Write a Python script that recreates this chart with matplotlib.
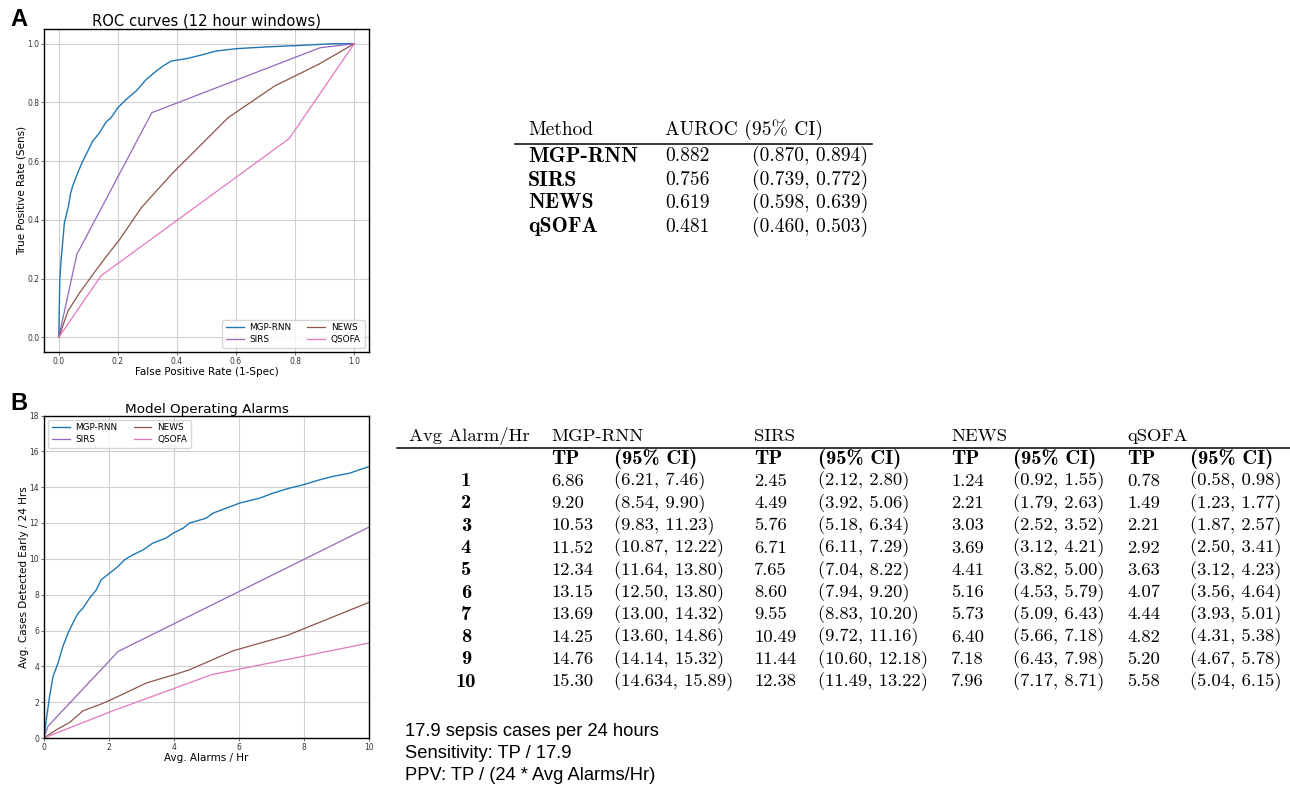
import matplotlib
matplotlib.use("Agg")
import matplotlib.pyplot as plt
from matplotlib.lines import Line2D

# ---------------- data ----------------
roc_mgp_fpr = [0.0, 0.0034, 0.008, 0.019, 0.033, 0.040, 0.047, 0.064, 0.081, 0.098, 0.115,
               0.138, 0.160, 0.177, 0.200, 0.228, 0.262, 0.296, 0.330, 0.353, 0.381, 0.432,
               0.477, 0.533, 0.601, 0.703, 0.816, 0.929, 1.0]
roc_mgp_tpr = [0.0, 0.197, 0.265, 0.390, 0.447, 0.490, 0.515, 0.560, 0.600, 0.634, 0.668,
               0.697, 0.733, 0.748, 0.782, 0.810, 0.839, 0.878, 0.907, 0.924, 0.941, 0.949,
               0.960, 0.975, 0.983, 0.989, 0.994, 1.0, 1.0]
roc_sirs_fpr = [0.0, 0.061, 0.315, 0.884, 1.0]
roc_sirs_tpr = [0.0, 0.282, 0.765, 0.986, 1.0]
roc_news_fpr = [0.0, 0.031, 0.070, 0.127, 0.166, 0.206, 0.279, 0.330, 0.386, 0.454, 0.573,
                0.731, 0.880, 1.0]
roc_news_tpr = [0.0, 0.089, 0.151, 0.230, 0.282, 0.333, 0.441, 0.498, 0.560, 0.628, 0.748,
                0.856, 0.930, 1.0]
roc_qsofa_fpr = [0.0, 0.1435, 0.780, 1.0]
roc_qsofa_tpr = [0.0, 0.210, 0.677, 1.0]

alarm_mgp_x = [0.0, 0.07, 0.17, 0.28, 0.43, 0.58, 0.74, 0.89, 1.05, 1.20, 1.40, 1.61, 1.76,
               2.02, 2.28, 2.48, 2.74, 3.05, 3.35, 3.76, 3.97, 4.28, 4.48, 4.99, 5.20, 5.61,
               6.02, 6.64, 7.05, 7.56, 7.97, 8.48, 8.89, 9.40, 10.0]
alarm_mgp_y = [0.0, 1.02, 2.30, 3.44, 4.18, 5.10, 5.86, 6.42, 6.97, 7.25, 7.80, 8.27, 8.83,
               9.20, 9.58, 9.95, 10.23, 10.50, 10.88, 11.16, 11.43, 11.71, 12.00, 12.27, 12.55,
               12.83, 13.11, 13.39, 13.67, 13.95, 14.13, 14.41, 14.60, 14.78, 15.15]
alarm_sirs_x = [0.0, 0.12, 2.28, 10.0]
alarm_sirs_y = [0.0, 0.65, 4.83, 11.77]
alarm_news_x = [0.0, 0.38, 0.79, 1.20, 1.71, 2.02, 3.15, 4.07, 4.48, 5.82, 7.46, 7.97, 10.0]
alarm_news_y = [0.0, 0.46, 0.87, 1.52, 1.86, 2.10, 3.07, 3.57, 3.81, 4.87, 5.71, 6.08, 7.57]
alarm_qsofa_x = [0.0, 2.02, 5.15, 10.0]
alarm_qsofa_y = [0.0, 1.45, 3.53, 5.30]

method_names = ["MGP-RNN", "SIRS", "NEWS", "qSOFA"]
auroc_vals = ["0.882", "0.756", "0.619", "0.481"]
auroc_cis = ["(0.870, 0.894)", "(0.739, 0.772)", "(0.598, 0.639)", "(0.460, 0.503)"]

alarm_rates = ["1", "2", "3", "4", "5", "6", "7", "8", "9", "10"]
tp_mgp = ["6.86", "9.20", "10.53", "11.52", "12.34", "13.15", "13.69", "14.25", "14.76", "15.30"]
ci_mgp = ["(6.21, 7.46)", "(8.54, 9.90)", "(9.83, 11.23)", "(10.87, 12.22)", "(11.64, 13.80)",
          "(12.50, 13.80)", "(13.00, 14.32)", "(13.60, 14.86)", "(14.14, 15.32)", "(14.634, 15.89)"]
tp_sirs = ["2.45", "4.49", "5.76", "6.71", "7.65", "8.60", "9.55", "10.49", "11.44", "12.38"]
ci_sirs = ["(2.12, 2.80)", "(3.92, 5.06)", "(5.18, 6.34)", "(6.11, 7.29)", "(7.04, 8.22)",
           "(7.94, 9.20)", "(8.83, 10.20)", "(9.72, 11.16)", "(10.60, 12.18)", "(11.49, 13.22)"]
tp_news = ["1.24", "2.21", "3.03", "3.69", "4.41", "5.16", "5.73", "6.40", "7.18", "7.96"]
ci_news = ["(0.92, 1.55)", "(1.79, 2.63)", "(2.52, 3.52)", "(3.12, 4.21)", "(3.82, 5.00)",
           "(4.53, 5.79)", "(5.09, 6.43)", "(5.66, 7.18)", "(6.43, 7.98)", "(7.17, 8.71)"]
tp_qsofa = ["0.78", "1.49", "2.21", "2.92", "3.63", "4.07", "4.44", "4.82", "5.20", "5.58"]
ci_qsofa = ["(0.58, 0.98)", "(1.23, 1.77)", "(1.87, 2.57)", "(2.50, 3.41)", "(3.12, 4.23)",
            "(3.56, 4.64)", "(3.93, 5.01)", "(4.31, 5.38)", "(4.67, 5.78)", "(5.04, 6.15)"]

notes = ["17.9 sepsis cases per 24 hours", "Sensitivity: TP / 17.9",
         "PPV: TP / (24 * Avg Alarms/Hr)"]

legend_labels = ["MGP-RNN", "SIRS", "NEWS", "QSOFA"]
colors = ["#1f77b4", "#9467bd", "#8c564b", "#e377c2"]

# ---------------- figure ----------------
W, H = 1290, 790
fig = plt.figure(figsize=(W / 100, H / 100), dpi=100)


def fx(x):
    return x / W


def fy(y):
    return 1 - y / H


def style_axes(ax):
    ax.grid(True, color="#d0d0d0", linewidth=0.8)
    ax.set_axisbelow(True)
    ax.tick_params(labelsize=5.5, length=2, width=0.5, colors="#333333", pad=1.5)
    for s in ax.spines.values():
        s.set_linewidth(1.0)
        s.set_color("black")


leg_kw = dict(ncol=2, fontsize=6.4, handlelength=2.0, columnspacing=1.8,
              borderpad=0.4, labelspacing=0.3, handletextpad=0.65)

# Panel A
axA = fig.add_axes([fx(44), fy(352), fx(369 - 44), (352 - 29) / H])
axA.plot(roc_mgp_fpr, roc_mgp_tpr, color=colors[0], lw=1.0, label=legend_labels[0])
axA.plot(roc_sirs_fpr, roc_sirs_tpr, color=colors[1], lw=0.9, label=legend_labels[1])
axA.plot(roc_news_fpr, roc_news_tpr, color=colors[2], lw=0.9, label=legend_labels[2])
axA.plot(roc_qsofa_fpr, roc_qsofa_tpr, color=colors[3], lw=0.9, label=legend_labels[3])
axA.set_xlim(-0.05, 1.05)
axA.set_ylim(-0.05, 1.05)
axA.set_xticks([0, 0.2, 0.4, 0.6, 0.8, 1.0])
axA.set_yticks([0, 0.2, 0.4, 0.6, 0.8, 1.0])
style_axes(axA)
axA.set_title("ROC curves (12 hour windows)", fontsize=10.6, pad=2)
axA.set_xlabel("False Positive Rate (1-Spec)", fontsize=7.5, labelpad=1)
axA.yaxis.set_label_coords(-0.055, 0.5)
axA.set_ylabel("True Positive Rate (Sens)", fontsize=7.5)
axA.legend(loc="lower right", **leg_kw)

# Panel B
axB = fig.add_axes([fx(44), fy(738), fx(369 - 44), (738 - 415.5) / H])
axB.plot(alarm_mgp_x, alarm_mgp_y, color=colors[0], lw=1.0, label=legend_labels[0])
axB.plot(alarm_sirs_x, alarm_sirs_y, color=colors[1], lw=0.9, label=legend_labels[1])
axB.plot(alarm_news_x, alarm_news_y, color=colors[2], lw=0.9, label=legend_labels[2])
axB.plot(alarm_qsofa_x, alarm_qsofa_y, color=colors[3], lw=0.9, label=legend_labels[3])
axB.set_xlim(0, 10)
axB.set_ylim(0, 18)
axB.set_xticks([0, 2, 4, 6, 8, 10])
axB.set_yticks([0, 2, 4, 6, 8, 10, 12, 14, 16, 18])
style_axes(axB)
axB.set_title("Model Operating Alarms", fontsize=9.7, pad=1)
axB.set_xlabel("Avg. Alarms / Hr", fontsize=7.5, labelpad=1)
axB.yaxis.set_label_coords(-0.045, 0.5)
axB.set_ylabel("Avg. Cases Detected Early / 24 Hrs", fontsize=7.5)
axB.legend(loc="upper left", **leg_kw)

# Panel letters
fig.text(fx(10), fy(19), "A", fontsize=17, fontweight="bold", family="Liberation Sans",
         va="center", ha="left")
fig.text(fx(10), fy(404), "B", fontsize=17, fontweight="bold", family="Liberation Sans",
         va="center", ha="left")

RM = "cmr10"
BF = "cmb10"
TS1 = 14.0
TB1 = 15.6
TS2 = 13.4
TB2 = 14.8

# Table 1
fig.text(fx(528), fy(130), "Method", family=RM, fontsize=TS1, va="center")
fig.text(fx(665), fy(130), "AUROC (95% CI)", family=RM, fontsize=TS1, va="center")
fig.add_artist(Line2D([fx(515), fx(872)], [fy(144), fy(144)], color="black", lw=1.1))
row1_y = [156, 180, 203, 227]
for name, v, ci, y in zip(method_names, auroc_vals, auroc_cis, row1_y):
    fig.text(fx(528), fy(y), name, family=BF, fontsize=TB1, va="center")
    fig.text(fx(665), fy(y), v, family=RM, fontsize=TS1, va="center")
    fig.text(fx(868), fy(y), ci, family=RM, fontsize=TS1, va="center", ha="right")

# Table 2
hdr_y = 436
fig.text(fx(409), fy(hdr_y), "Avg Alarm/Hr", family=RM, fontsize=TS2, va="center")
col_tp = [551, 754, 951, 1127]
col_ci = [614, 818, 1013, 1190]
for name, xt in zip(method_names, col_tp):
    fig.text(fx(xt), fy(hdr_y), name, family=RM, fontsize=TS2, va="center")
fig.add_artist(Line2D([fx(397), fx(1290)], [fy(448), fy(448)], color="black", lw=1.1))
sub_y = 459
for xt, xc in zip(col_tp, col_ci):
    fig.text(fx(xt), fy(sub_y), "TP", family=BF, fontsize=TB2, va="center")
    fig.text(fx(xc), fy(sub_y), "(95% CI)", family=BF, fontsize=TB2, va="center")

row_y0, row_dy = 481, 22.3
tps = [tp_mgp, tp_sirs, tp_news, tp_qsofa]
cis = [ci_mgp, ci_sirs, ci_news, ci_qsofa]
for i, r in enumerate(alarm_rates):
    y = row_y0 + i * row_dy
    fig.text(fx(466), fy(y), r, family=BF, fontsize=TB2, va="center", ha="center")
    for k in range(4):
        fig.text(fx(col_tp[k]), fy(y), tps[k][i], family=RM, fontsize=TS2, va="center")
        fig.text(fx(col_ci[k]), fy(y), cis[k][i], family=RM, fontsize=TS2, va="center")

# Notes
for j, t in enumerate(notes):
    fig.text(fx(405), fy(732 + 22 * j), t, family="Liberation Sans", fontsize=13.2,
             va="center", ha="left")

fig.savefig("out.png", dpi=100)
